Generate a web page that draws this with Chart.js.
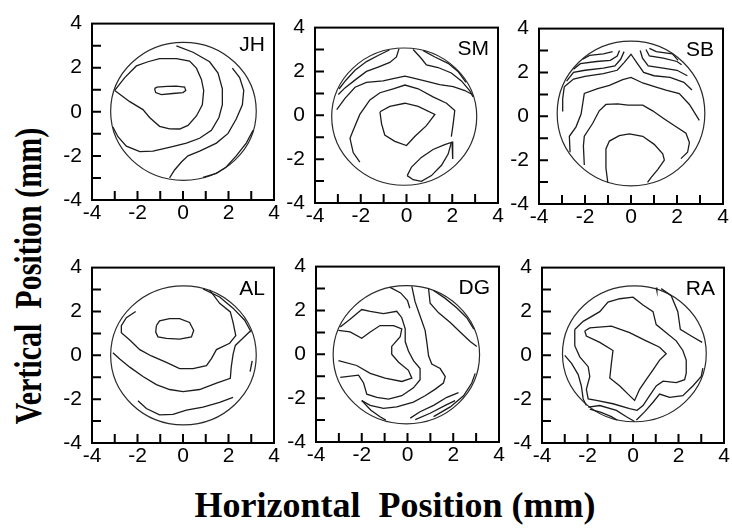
<!DOCTYPE html>
<html lang="en">
<head>
<meta charset="UTF-8">
<title>Corneal contour maps</title>
<style>
    body {
        margin: 0;
        width: 732px;
        height: 529px;
        position: relative;
        overflow: hidden;
        background: #fff;
    }
    canvas { position: absolute; }
    .axis-title {
        position: absolute;
        white-space: nowrap;
        font-family: "Liberation Serif", "Times New Roman", serif;
        font-weight: bold;
        color: #000;
        line-height: 1;
    }
    #ytitle {
        left: 28px;
        top: 276px;
        font-size: 30px;
        transform: translate(-50%, -50%) rotate(-90deg) scaleY(1.25);
    }
    #xtitle {
        left: 395px;
        top: 487px;
        font-size: 36px;
        transform: translateX(-50%);
    }
</style>
</head>
<body>
<div id="ytitle" class="axis-title">Vertical&nbsp; Position (mm)</div>
<div id="xtitle" class="axis-title">Horizontal&nbsp; Position (mm)</div>

<script src="https://cdn.jsdelivr.net/npm/chart.js@4"></script>
<script>
    // axis ticks (mm)
    const tickValues = [-4, -2, 0, 2, 4];
    const tickMarks = [-3, -2, -1, 0, 1, 2, 3];

    // pupil rim per subject: [centre x, centre y, radius x, radius y]
    const jhRim = [0.02, 0.02, 3.2, 3.13];
    const smRim = [-0.1, -0.06, 3.17, 3.13];
    const sbRim = [0, 0.13, 3.21, 3.3];
    const alRim = [0.02, 0, 3.2, 3.17];
    const dgRim = [-0.05, -0.02, 3.2, 3.15];
    const raRim = [0.06, 0.07, 3.16, 3.1];

    // contour lines, [x, y] in mm
    const jhLines = [
        [[-1.25,1.05],[-1.15,1.12],[-0.7,1.15],[-0.3,1.16],[0.07,1.12],[0.12,0.97],[0.0,0.87],[-0.45,0.83],[-0.95,0.78],[-1.2,0.87],[-1.25,1.05]],
        [[-3.0,0.97],[-2.56,1.55],[-2.05,2.08],[-1.54,2.27],[-1.03,2.41],[-0.29,2.41],[0.29,2.3],[0.59,1.98],[0.81,1.47],[0.91,0.97],[0.85,0.32],[0.59,-0.19],[0.22,-0.62],[-0.15,-0.78],[-0.59,-0.77],[-1.03,-0.66],[-1.47,-0.26],[-1.76,0.1],[-2.34,0.46],[-3.0,0.97]],
        [[-0.29,2.99],[0.44,2.7],[1.17,2.27],[1.54,1.76],[1.73,1.04],[1.73,0.32],[1.58,-0.26],[1.25,-0.84],[0.73,-1.2],[0.15,-1.42],[-0.51,-1.59],[-1.32,-1.78],[-1.9,-1.81],[-2.49,-1.56],[-2.86,-1.13],[-3.08,-0.69]],
        [[2.17,1.98],[2.49,1.55],[2.67,0.97],[2.61,0.32],[2.34,-0.33],[1.98,-0.98],[1.47,-1.42],[0.73,-1.78],[0.22,-2.0],[-0.07,-2.28],[-0.37,-2.64],[-0.59,-3.0]],
        [[3.08,-0.84],[2.78,-1.42],[2.34,-2.0],[1.9,-2.5],[1.47,-2.79],[0.88,-2.97]]
    ];
    const smLines = [
        [[-1.16,0.16],[-0.73,0.41],[-0.07,0.55],[0.51,0.41],[1.24,0.04],[0.87,-0.47],[0.36,-0.97],[0,-1.38],[-0.51,-1.19],[-0.95,-0.9],[-1.09,-0.39],[-1.16,0.16]],
        [[-2.04,-2.14],[-2.33,-1.7],[-2.47,-1.05],[-2.33,-0.68],[-2.04,0.04],[-1.6,0.7],[-1.16,1.03],[-0.58,1.21],[-0.07,1.38],[0.51,1.21],[1.16,0.84],[1.75,0.55],[2.11,0.22],[2.04,-0.39],[1.96,-0.97]],
        [[0.03,-2.75],[0.22,-2.36],[0.65,-1.92],[1.16,-1.56],[1.67,-1.34],[1.96,-1.24],[1.82,-1.77],[1.53,-2.28],[1.09,-2.75],[0.65,-3.01],[0.29,-2.94],[0.03,-2.75]],
        [[1.99,-1.2],[2.02,-1.99]],
        [[-3.05,0.26],[-2.69,0.77],[-2.25,1.28],[-1.75,1.5],[-1.02,1.57],[-0.58,1.67],[-0.07,1.79],[0.22,1.72],[0.8,1.57],[1.45,1.4],[2.04,1.31],[2.55,1.13],[2.88,0.95]],
        [[-0.33,3.03],[-0.44,2.66],[-0.73,2.41],[-1.24,2.2],[-1.75,2.0],[-2.2,1.65],[-2.69,1.25],[-2.98,0.95]],
        [[-0.75,2.98],[-1.2,2.75],[-1.75,2.45],[-2.25,2.05],[-2.65,1.6],[-2.95,1.2]],
        [[0.29,3.0],[0.65,2.59],[0.87,2.3],[1.38,2.18],[1.96,1.93],[2.4,1.57],[2.76,1.13],[2.91,0.84]],
        [[0.73,2.95],[1.24,2.66],[1.82,2.37],[2.25,2.0],[2.6,1.5]]
    ];
    const sbLines = [
        [[-1.01,-3.01],[-1.09,-2.36],[-1.09,-1.49],[-0.94,-1.13],[-0.51,-0.88],[-0.07,-0.8],[0.51,-0.91],[1.01,-1.28],[1.38,-1.71],[1.45,-2.0],[1.16,-2.43],[0.87,-2.8],[0.72,-3.01]],
        [[-2.03,-2.22],[-2.07,-1.35],[-2.03,-0.91],[-1.67,-0.33],[-1.38,0.25],[-1.09,0.54],[-0.58,0.57],[-0.14,0.51],[0.51,0.51],[0.94,0.25],[1.45,-0.12],[1.96,-0.48],[2.39,-0.77],[2.54,-1.2],[2.46,-1.64],[2.17,-1.93]],
        [[-2.65,-1.64],[-2.68,-0.91],[-2.39,-0.48],[-2.17,0.1],[-2.03,1.04],[-1.45,1.26],[-0.94,1.41],[-0.36,1.67],[0,1.77],[0.51,1.52],[1.09,1.33],[1.52,1.19],[2.1,1.04],[2.54,0.54],[2.97,-0.19]],
        [[-3.0,0.25],[-2.97,0.8],[-2.9,1.35]],
        [[-2.9,1.35],[-2.5,1.7],[-2.0,1.82],[-1.2,1.95],[-0.6,2.1],[-0.3,2.45],[0,2.83],[0.25,2.45],[0.55,2.0],[1.0,1.85],[1.7,1.78],[2.3,1.55],[2.65,1.2]],
        [[-2.8,1.6],[-2.5,2.0],[-2.0,2.1],[-1.2,2.2],[-0.7,2.3],[-0.45,2.6],[-0.3,2.95]],
        [[-2.5,2.15],[-2.2,2.4],[-1.5,2.5],[-0.9,2.55],[-0.6,2.75],[-0.5,3.0]],
        [[-2.1,2.6],[-1.8,2.78],[-1.2,2.85],[-0.8,2.95]],
        [[0.4,3.0],[0.5,2.65],[0.75,2.3],[1.4,2.2],[2.0,2.1],[2.45,1.85]],
        [[0.65,3.05],[0.8,2.75],[1.4,2.65],[2.0,2.5],[2.2,2.35]],
        [[0.8,3.1],[1.1,2.95],[1.8,2.85],[2.05,2.55]]
    ];
    const alLines = [
        [[-1.17,1.35],[-1.03,1.57],[-0.59,1.67],[-0.15,1.67],[0.29,1.5],[0.47,1.13],[0.37,0.84],[-0.15,0.74],[-0.73,0.77],[-1.1,0.84],[-1.2,1.06],[-1.17,1.35]],
        [[-2.08,2.0],[-2.49,1.72],[-2.71,1.35],[-2.71,1.03],[-2.34,0.7],[-1.9,0.26],[-1.39,-0.03],[-0.73,-0.32],[-0.15,-0.61],[0.44,-0.61],[1.03,-0.47],[1.25,-0.15],[1.47,0.26],[2.05,0.55],[2.32,0.9],[2.2,1.5],[2.08,1.98],[1.61,2.37],[1.17,2.98]],
        [[-3.08,0.12],[-2.78,-0.17],[-2.34,-0.54],[-1.76,-0.97],[-1.17,-1.34],[-0.59,-1.56],[0,-1.66],[0.73,-1.56],[1.47,-1.27],[2.08,-1.05],[2.12,-0.54],[2.2,0.04],[2.3,0.45],[2.55,0.7],[2.95,1.1]],
        [[0.88,3.03],[1.61,2.66],[2.2,2.15],[2.71,1.6],[3.0,1.05]],
        [[3.04,-0.25],[2.95,-0.75]],
        [[-1.98,-2.07],[-1.61,-2.43],[-1.03,-2.72],[-0.44,-2.69],[0.15,-2.5],[0.88,-2.36],[1.61,-2.15],[2.2,-1.92]]
    ];
    const dgLines = [
        [[-3.02,1.09],[-2.51,1.02],[-2.0,0.73],[-1.63,1.02],[-1.2,1.31],[-0.61,1.31],[-0.25,1.16],[-0.32,0.8],[-0.69,0.36],[-0.69,0],[-0.39,-0.36],[0.04,-0.73],[0.19,-1.09],[-0.25,-1.24],[-0.98,-1.09],[-1.63,-0.87],[-2.22,-0.51],[-3.02,-0.29]],
        [[-2.94,1.24],[-2.51,1.6],[-2.0,2.04],[-1.63,1.96],[-1.05,1.86],[-0.47,1.96],[-0.25,1.67],[-0.1,1.16],[-0.1,0.58],[0.04,0.15],[0.26,-0.29],[0.55,-0.65],[0.55,-1.16],[0.26,-1.53],[-0.25,-1.89],[-0.83,-2.04],[-1.34,-1.96],[-1.78,-1.82],[-1.92,-1.31],[-2.14,-0.95],[-2.94,-1.05]],
        [[0.19,3.1],[0.33,2.4],[0.55,1.75],[0.77,1.09],[0.85,0.51],[0.92,-0.07],[1.06,-0.44],[1.43,-0.65],[1.65,-1.02],[1.57,-1.31],[1.2,-1.6],[0.77,-1.89],[0.26,-2.18],[-0.47,-2.4],[-1.05,-2.47],[-1.63,-2.33],[-2.0,-2.11]],
        [[-2.0,-2.11],[-1.6,-2.55],[-1.2,-2.85],[-0.95,-3.0]],
        [[0.92,3.0],[0.99,2.33],[1.36,1.89],[1.87,1.45],[2.3,1.02],[2.74,0.58],[3.03,0.36]],
        [[1.14,2.91],[1.65,2.55],[2.16,2.11],[2.59,1.67],[2.9,1.15]],
        [[-0.76,3.05],[-0.3,2.8],[0.0,2.45],[0.1,2.1]],
        [[0.12,-2.91],[0.55,-2.62],[1.14,-2.33],[1.72,-1.96],[2.23,-1.75]],
        [[0.34,-2.98],[0.99,-2.69],[1.65,-2.33],[2.08,-2.11]],
        [[2.96,-0.87],[2.81,-1.31],[2.45,-1.89],[1.87,-2.4],[1.14,-2.84]]
    ];
    const raLines = [
        [[-2.12,1.11],[-1.9,1.25],[-0.95,1.33],[-0.15,1.03],[0.58,0.66],[1.17,0.37],[1.46,0.07],[1.17,-0.22],[0.88,-0.66],[0.58,-1.11],[0.29,-1.55],[0.07,-2.06],[-0.15,-1.84],[-0.58,-1.4],[-1.02,-1.03],[-0.95,-0.37],[-0.88,0.22],[-1.46,0.59],[-2.05,0.88],[-2.12,1.11]],
        [[-2.56,1.18],[-2.19,1.55],[-1.46,1.99],[-1.1,2.43],[-0.58,2.58],[0,2.65],[0.44,2.29],[0.88,1.99],[1.02,1.4],[1.46,1.03],[1.9,0.66],[2.19,0.22],[2.34,-0.22],[2.34,-0.81],[2.27,-1.11],[1.9,-1.25],[1.32,-1.18],[1.02,-1.4],[0.73,-1.84],[0.44,-2.29],[0.18,-2.51],[-0.15,-2.43],[-0.88,-2.21],[-1.61,-2.06],[-1.97,-1.99],[-2.05,-1.55],[-1.9,-0.96],[-1.97,-0.52],[-2.34,-0.07],[-2.56,0.44],[-2.56,1.18]],
        [[1.24,3.04],[1.68,2.72],[1.97,1.99],[2.08,1.18],[2.56,0.88],[3.04,0.59]],
        [[1.02,3.09],[1.05,2.94]],
        [[3.07,-0.59],[3.0,-0.96],[2.63,-1.4],[2.19,-1.84],[1.61,-1.92],[1.17,-1.77],[0.88,-2.14],[0.51,-2.58],[0.15,-2.95]],
        [[-3.0,0],[-2.7,-0.37],[-2.41,-0.88],[-2.27,-1.4],[-2.19,-1.99],[-2.05,-2.29]],
        [[-1.97,-2.36],[-1.46,-2.29],[-0.73,-2.51],[-0.29,-2.8],[0.07,-3.02]],
        [[-1.9,-2.45],[-1.4,-2.6],[-0.95,-2.8],[-0.7,-2.95]]
    ];

    // page layout: plot box [left, top, right, bottom] in page pixels
    const panels = [
        { name: 'JH', rim: jhRim, lines: jhLines, box: [92, 15, 274, 200] },
        { name: 'SM', rim: smRim, lines: smLines, box: [315, 19, 498, 203] },
        { name: 'SB', rim: sbRim, lines: sbLines, box: [539, 20, 723, 204] },
        { name: 'AL', rim: alRim, lines: alLines, box: [92, 259, 274, 443] },
        { name: 'DG', rim: dgRim, lines: dgLines, box: [316, 258, 499, 442] },
        { name: 'RA', rim: raRim, lines: raLines, box: [542, 259, 724, 443] }
    ];

    const Y_AXIS_W = 34, X_AXIS_H = 30, PAD_TOP = 14, PAD_RIGHT = 8;
    const TICK_LEN = 9;
    const labelFont = { family: '"Liberation Sans", Arial, sans-serif', size: 21 };

    // rim circle, frame, inward ticks and subject label
    const framePlugin = {
        id: 'frame',
        beforeDatasetsDraw(chart, args, opts) {
            const { ctx, scales: { x, y } } = chart;
            const [cx, cy, rx, ry] = opts.rim;
            const px = x.getPixelForValue(cx);
            const py = y.getPixelForValue(cy);
            ctx.save();
            ctx.strokeStyle = '#2a2a2a';
            ctx.lineWidth = 1.2;
            ctx.beginPath();
            ctx.ellipse(px, py,
                Math.abs(x.getPixelForValue(cx + rx) - px),
                Math.abs(y.getPixelForValue(cy + ry) - py), 0, 0, Math.PI * 2);
            ctx.stroke();
            ctx.restore();
        },
        afterDraw(chart, args, opts) {
            const { ctx, chartArea: a, scales: { x, y } } = chart;
            ctx.save();
            ctx.strokeStyle = '#000';
            ctx.lineWidth = 2;
            ctx.strokeRect(a.left, a.top, a.right - a.left, a.bottom - a.top);
            ctx.beginPath();
            tickMarks.forEach(v => {
                const tx = x.getPixelForValue(v);
                ctx.moveTo(tx, a.bottom);
                ctx.lineTo(tx, a.bottom - TICK_LEN);
                const ty = y.getPixelForValue(v);
                ctx.moveTo(a.left, ty);
                ctx.lineTo(a.left + TICK_LEN, ty);
            });
            ctx.stroke();
            ctx.fillStyle = '#000';
            ctx.font = '21px "Liberation Sans", Arial, sans-serif';
            ctx.textAlign = 'right';
            ctx.textBaseline = 'alphabetic';
            ctx.fillText(opts.name, a.right - 9, a.top + 27);
            ctx.restore();
        }
    };

    function axis(extra) {
        return Object.assign({
            type: 'linear',
            min: -4,
            max: 4,
            afterBuildTicks: s => { s.ticks = tickValues.map(v => ({ value: v })); },
            grid: { display: false, drawTicks: false },
            border: { display: false }
        }, extra);
    }

    panels.forEach(p => {
        const [l, t, r, b] = p.box;
        const canvas = document.createElement('canvas');
        canvas.width = Y_AXIS_W + (r - l) + PAD_RIGHT;
        canvas.height = PAD_TOP + (b - t) + X_AXIS_H;
        canvas.style.left = (l - Y_AXIS_W) + 'px';
        canvas.style.top = (t - PAD_TOP) + 'px';
        document.body.appendChild(canvas);

        new Chart(canvas, {
            type: 'scatter',
            data: {
                datasets: p.lines.map(line => ({
                    data: line.map(([x, y]) => ({ x, y })),
                    showLine: true,
                    borderColor: '#1c1c1c',
                    borderWidth: 1.3,
                    pointRadius: 0,
                    tension: 0
                }))
            },
            options: {
                responsive: false,
                animation: false,
                events: [],
                devicePixelRatio: 1,
                layout: { padding: { top: PAD_TOP, right: PAD_RIGHT, left: 0, bottom: 0 } },
                plugins: {
                    legend: { display: false },
                    tooltip: { enabled: false },
                    frame: { rim: p.rim, name: p.name }
                },
                scales: {
                    x: axis({ position: 'bottom', ticks: { font: labelFont, color: '#000', padding: 1, autoSkip: false, maxRotation: 0 },
                              afterFit: s => { s.height = X_AXIS_H; } }),
                    y: axis({ position: 'left', ticks: { font: labelFont, color: '#000', padding: 10, autoSkip: false },
                              afterFit: s => { s.width = Y_AXIS_W; } })
                }
            },
            plugins: [framePlugin]
        });
    });
</script>
</body>
</html>
